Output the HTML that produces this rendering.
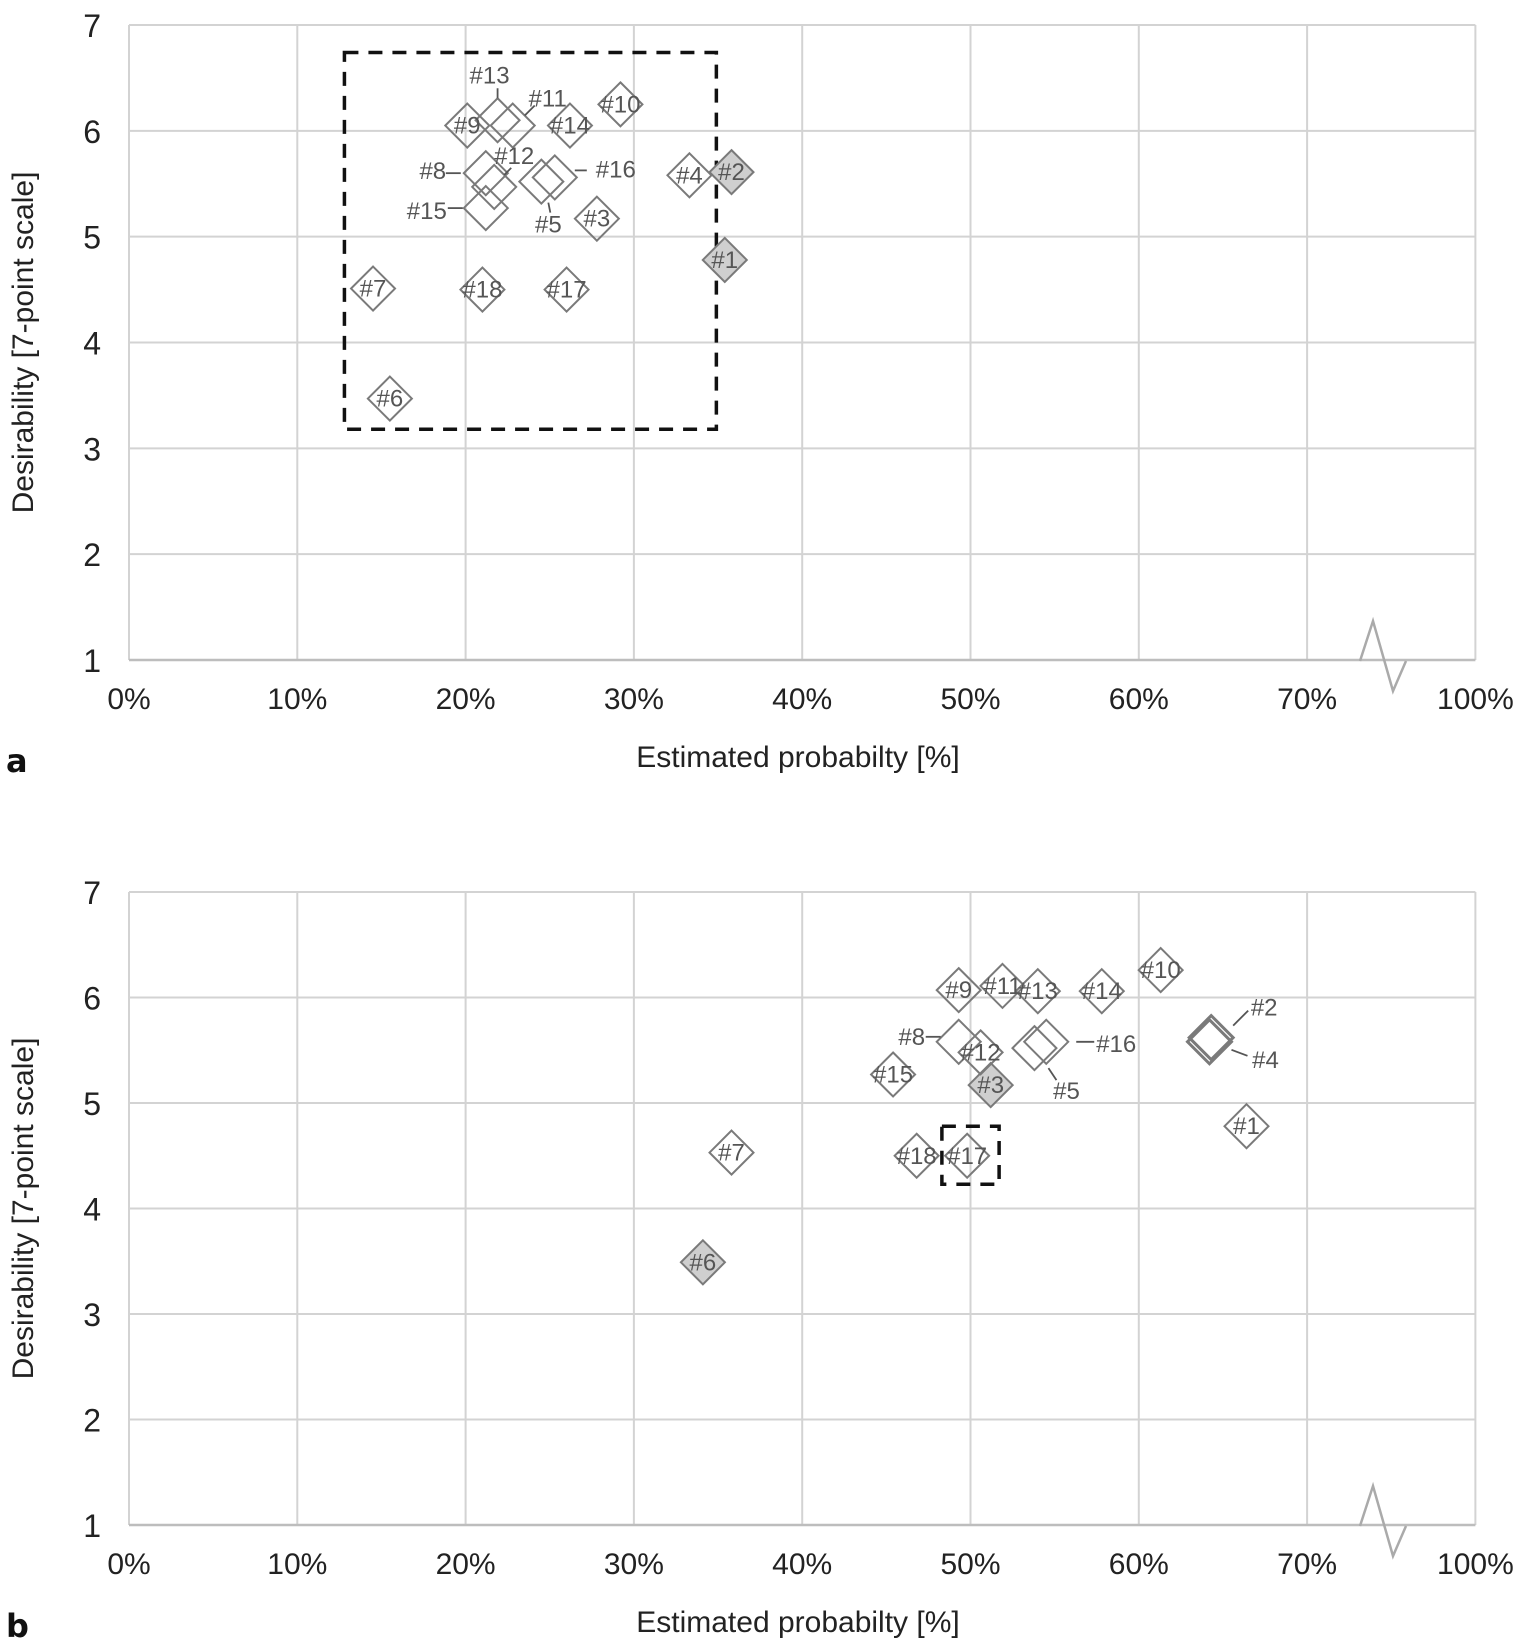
<!DOCTYPE html>
<html><head><meta charset="utf-8"><style>
html,body{margin:0;padding:0;background:#fff;}
svg{display:block;font-family:"Liberation Sans",Arial,sans-serif;}
</style></head><body>
<svg id="fig" width="1524" height="1643" viewBox="0 0 1524 1643"></svg>
<script>
// ---- data ----
const pointIds = ["#1","#2","#3","#4","#5","#6","#7","#8","#9","#10","#11","#12","#13","#14","#15","#16","#17","#18"];
const probA = [35.4,35.8,27.8,33.3,24.5,15.5,14.5,21.2,20.1,29.2,22.8,21.7,21.9,26.2,21.2,25.3,26.0,21.0];
const desA  = [4.78,5.61,5.17,5.58,5.52,3.47,4.51,5.60,6.05,6.25,6.05,5.47,6.10,6.05,5.27,5.56,4.50,4.50];
const filledA = ["#1","#2"];
const probB = [66.4,64.3,51.2,64.2,53.8,34.1,35.8,49.3,49.3,61.3,51.9,50.6,54.0,57.8,45.4,54.5,49.8,46.8];
const desB  = [4.78,5.62,5.17,5.58,5.52,3.49,4.53,5.58,6.07,6.26,6.11,5.48,6.06,6.06,5.27,5.58,4.50,4.50];
const filledB = ["#3","#6"];
const xTicks = ["0%","10%","20%","30%","40%","50%","60%","70%","100%"];
const yTicks = [1,2,3,4,5,6,7];
const boxA = [12.8,34.9,3.18,6.74];
const boxB = [48.3,51.7,4.23,4.78];
// label placements (px offsets) : [dx,dy, leader x1,y1,x2,y2] relative to point
const labelA = {"#13":[-8,-45,0,-22,0,-32],"#11":[35,-27,12,-10,22,-20],"#8":[-53,-2,-40,0,-25,0],
 "#12":[20,-31,10,-12,17,-19],"#15":[-59,3,-38,0,-23,0],"#16":[61,-8,20,-7,32,-7],"#5":[7,43,7,21,9,31]};
const labelB = {"#8":[-47,-5,-33,-5,-18,-5],"#16":[70,2,30,0,48,0],"#5":[32,43,14,20,22,32],
 "#2":[53,-30,22,-12,37,-27],"#4":[56,18,22,8,38,14]};

const NS="http://www.w3.org/2000/svg";
const svg=document.getElementById('fig');
function mk(tag,attrs,parent){const e=document.createElementNS(NS,tag);for(const k in attrs)e.setAttribute(k,attrs[k]);(parent||svg).appendChild(e);return e;}

const X0=129, XI=168.3;
function xs(p){ return p<=70 ? X0+p/10*XI : X0+7*XI+(p-70)/30*XI; }

function drawChart(top, bottom, probs, des, filled, box, labels, letter, gname){
  const g=mk('g',{});
  
  
  const unit=(bottom-top)/6;
  const ys=v=>bottom-(v-1)*unit;
  for(let i=0;i<xTicks.length;i++){
    const x=X0+i*XI;
    const l=mk('line',{x1:x,y1:top,x2:x,y2:bottom,stroke:'#d3d3d3','stroke-width':2},g);
    
    
    const t=mk('text',{x:x,y:bottom+49,'font-size':30,'text-anchor':'middle',fill:'#222'},g);
    t.textContent=xTicks[i];
    
    
  }
  yTicks.forEach(v=>{
    const y=ys(v);
    const l=mk('line',{x1:X0,y1:y,x2:X0+8*XI,y2:y,stroke:v==1?'#bdbdbd':'#d3d3d3','stroke-width':v==1?2.5:2},g);
    
    
    const t=mk('text',{x:101,y:y+12,'font-size':32,'text-anchor':'end',fill:'#222'},g);
    t.textContent=v;
    
    
  });
  const zz=mk('polyline',{points:`1360,${bottom+1} 1373,${bottom-39} 1393,${bottom+31} 1406,${bottom+1}`,fill:'none',stroke:'#aaa','stroke-width':2.5},g);
  
  
  const bx=xs(box[0]),bx2=xs(box[1]),by=ys(box[3]),by2=ys(box[2]);
  const r=mk('rect',{x:bx,y:by,width:bx2-bx,height:by2-by,fill:'none',stroke:'#111','stroke-width':3.5,'stroke-dasharray':'14,10'},g);
  
  
  for(let i=0;i<pointIds.length;i++){
    const id=pointIds[i],cx=xs(probs[i]),cy=ys(des[i]),h=22;
    const thick=(gname==='chart-b'&&(id==='#2'||id==='#4'));
    const d=mk('polygon',{points:`${cx},${cy-h} ${cx+h},${cy} ${cx},${cy+h} ${cx-h},${cy}`,fill:filled.includes(id)?'#cfcfcf':'none',stroke:'#7a7a7a','stroke-width':thick?3:2},g);
    
    
  }
  for(let i=0;i<pointIds.length;i++){
    const id=pointIds[i],cx=xs(probs[i]),cy=ys(des[i]);
    const L=labels[id];
    let dx=0,dy=0;
    if(L){dx=L[0];dy=L[1];
      const ln=mk('line',{x1:cx+L[2],y1:cy+L[3],x2:cx+L[4],y2:cy+L[5],stroke:'#555','stroke-width':1.8},g);
      
      
    }
    const t=mk('text',{x:cx+dx,y:cy+dy+8,'font-size':24,'text-anchor':'middle',fill:'#555'},g);
    t.textContent=id;
    
    
  }
  const yt=mk('text',{x:0,y:0,'font-size':30,'text-anchor':'middle',fill:'#222',transform:`translate(33,${(top+bottom)/2}) rotate(-90)`},g);
  yt.textContent='Desirability [7-point scale]';
  
  
  const xt=mk('text',{x:798,y:bottom+107,'font-size':30,'text-anchor':'middle',fill:'#222'},g);
  xt.textContent='Estimated probabilty [%]';
  
  
  const lt=mk('text',{x:6,y:bottom+112,'font-size':32,'font-weight':'bold',fill:'#111',"font-family":'"DejaVu Sans",sans-serif'},g);
  lt.textContent=letter;
  
  
}
drawChart(25,660,probA,desA,filledA,boxA,labelA,'a','chart-a');
drawChart(892,1525,probB,desB,filledB,boxB,labelB,'b','chart-b');
</script>
</body></html>
